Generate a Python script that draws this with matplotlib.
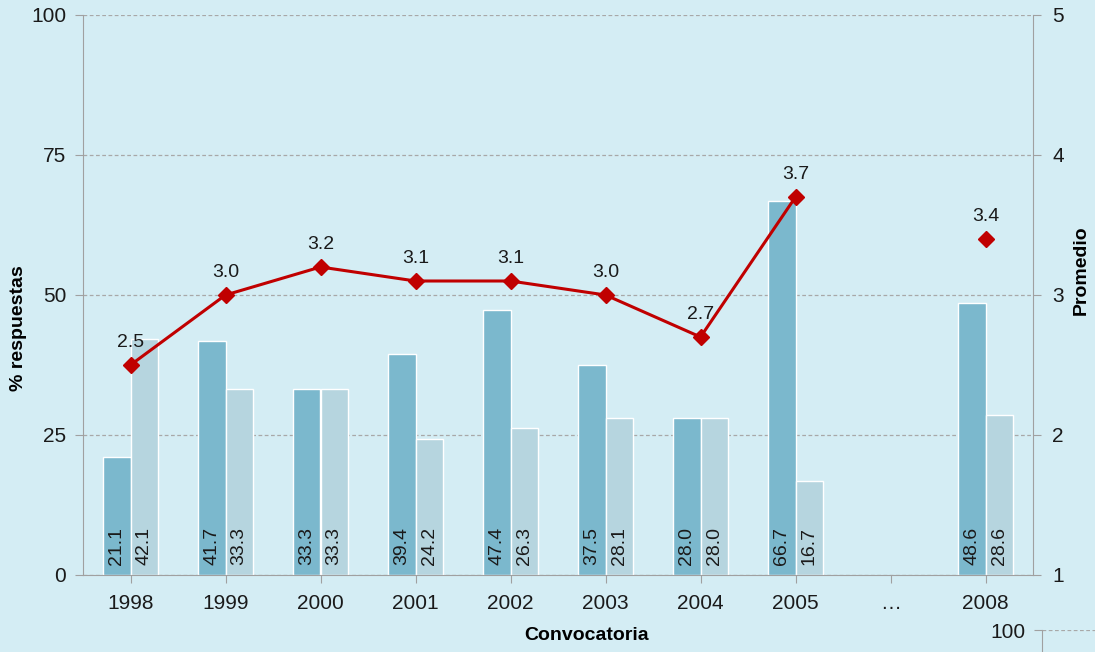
import numpy as np
import matplotlib.pyplot as plt

plt.rcParams['font.family'] = ['Liberation Sans', 'DejaVu Sans']

convocatorias = ['1998', '1999', '2000', '2001', '2002', '2003', '2004', '2005', '…', '2008']
pct_a = [21.1, 41.7, 33.3, 39.4, 47.4, 37.5, 28.0, 66.7, np.nan, 48.6]
pct_b = [42.1, 33.3, 33.3, 24.2, 26.3, 28.1, 28.0, 16.7, np.nan, 28.6]
promedio = [2.5, 3.0, 3.2, 3.1, 3.1, 3.0, 2.7, 3.7, np.nan, 3.4]

bg = '#d4edf4'
c_dark = '#7bb8cd'
c_light = '#b6d5df'
c_red = '#c00000'
c_axis = '#a0a0a0'

fig = plt.figure(figsize=(10.95, 6.52), dpi=100, facecolor=bg)
ax = fig.add_axes([83 / 1095, 1 - 575 / 652, 950 / 1095, 560 / 652])
ax.set_facecolor(bg)

x = np.arange(len(convocatorias))
w = 0.285
ax.bar(x - w / 2, pct_a, w, color=c_dark, edgecolor='white', linewidth=1, zorder=2)
ax.bar(x + w / 2, pct_b, w, color=c_light, edgecolor='white', linewidth=1, zorder=2)

# values written vertically at the base of each bar
for xs, vals in ((x - w / 2, pct_a), (x + w / 2, pct_b)):
    for xi, v in zip(xs, vals):
        if np.isnan(v):
            continue
        ax.text(xi, 1.7, f'{v:.1f}', rotation=90, ha='center', va='bottom',
                fontsize=14, color='#1a1a1a', zorder=3)

ax.set_xlim(-0.5, len(convocatorias) - 0.5)
ax.set_ylim(0, 100)
ax.set_yticks([0, 25, 50, 75, 100])
ax.set_xticks(x)
ax.set_xticklabels(convocatorias)
ax.yaxis.grid(True, linestyle=(0, (3, 2)), color='#a8a8a8', linewidth=0.9)
ax.set_axisbelow(True)
for s in ['top', 'right']:
    ax.spines[s].set_visible(False)
for s in ['left', 'bottom']:
    ax.spines[s].set_color(c_axis)
ax.tick_params(axis='both', colors=c_axis, labelcolor='#1a1a1a', labelsize=15, length=6)
ax.tick_params(axis='y', pad=6)
ax.tick_params(axis='x', pad=8)
ax.set_ylabel('% respuestas', fontsize=14, fontweight='bold')
ax.yaxis.set_label_coords(-0.059, 0.44)
ax.set_xlabel('Convocatoria', fontsize=14, fontweight='bold')
ax.xaxis.set_label_coords(0.5305, -0.093)

ax2 = ax.twinx()
ax2.set_ylim(1, 5)
ax2.set_yticks([1, 2, 3, 4, 5])
for s in ['top', 'left', 'bottom']:
    ax2.spines[s].set_visible(False)
ax2.spines['right'].set_color(c_axis)
ax2.tick_params(axis='y', colors=c_axis, labelcolor='#1a1a1a', labelsize=15, length=6, pad=8)
ax2.set_ylabel('Promedio', fontsize=14, fontweight='bold')
ax2.yaxis.set_label_coords(1.042, 0.545)

ax2.plot(x, promedio, color=c_red, linewidth=2.2, marker='D', markersize=8, zorder=4)
for xi, v in zip(x, promedio):
    if np.isnan(v):
        continue
    ax2.annotate(f'{v:.1f}', (xi, v), xytext=(0, 10), textcoords='offset points',
                 ha='center', va='bottom', fontsize=14, color='#1a1a1a')

# edge of the next chart peeking in at the lower right
ax3 = fig.add_axes([1042 / 1095, (652 - 630 - 560) / 652, 60 / 1095, 560 / 652])
ax3.set_facecolor('none')
ax3.set_ylim(0, 100)
ax3.set_xlim(0, 1)
ax3.set_yticks([100])
ax3.set_xticks([])
ax3.yaxis.grid(True, linestyle=(0, (3, 2)), color='#a8a8a8', linewidth=0.9)
for s in ['top', 'right', 'bottom']:
    ax3.spines[s].set_visible(False)
ax3.spines['left'].set_color(c_axis)
ax3.tick_params(axis='y', colors=c_axis, labelcolor='#1a1a1a', labelsize=15, length=6, pad=6)

fig.savefig('out.png', dpi=100, facecolor=bg)
